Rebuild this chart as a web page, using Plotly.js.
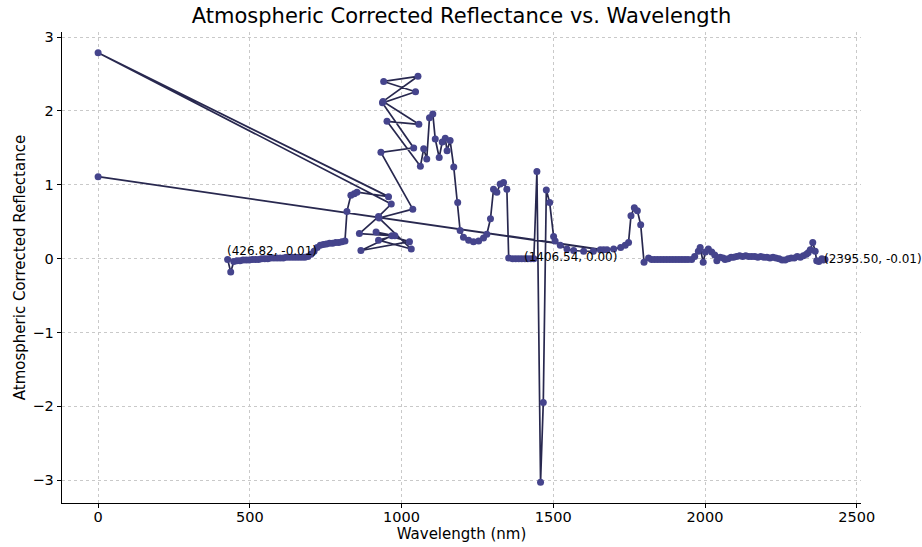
<!DOCTYPE html>
<html>
<head>
<meta charset="utf-8">
<script src="https://cdn.plot.ly/plotly-3.0.1.min.js"></script>
<style>html,body{margin:0;padding:0;background:#fff;}#chart{width:922px;height:547px;}</style>
</head>
<body>
<div id="chart"></div>
<script>
// Band sequence (in file order)
const wavelength = [
  426.82, 436.99, 447.17, 457.34, 467.52, 477.69, 487.87, 498.04, 508.22, 518.39,
  528.57, 538.74, 548.92, 559.09, 569.27, 579.45, 589.62, 599.80, 609.97, 620.15,
  630.32, 640.50, 650.67, 660.85, 671.02, 681.20, 691.37, 701.55, 711.72, 721.90,
  732.07, 742.25, 752.43, 762.60, 772.78, 782.95, 793.13, 803.30, 813.48,
  820, 833, 844, 853, 957, 0, 966,
  924, 861, 968, 866, 1026, 916, 978, 924, 1032, 926,
  1037, 932, 1040, 937, 1046, 941, 1054, 939, 1057, 952,
  1062, 1073, 1083, 1092, 1103, 1111, 1124, 1134, 1144, 1150, 1160, 1172, 1185,
  1193, 1204, 1221, 1237, 1254, 1270, 1281, 1293, 1303, 1314, 1325, 1336, 1347,
  1353, 1366, 1376, 1386, 1396, 1406.54, 1416, 1426, 1436,
  1446, 1458, 1467, 1477, 1488, 1501, 1506, 1523, 1545, 1567, 1600, 1632, 1655,
  0, 1666,
  1677, 1699, 1722, 1737, 1748, 1756, 1767, 1777, 1788, 1799,
  1814, 1824, 1834, 1844, 1854, 1864, 1874, 1884, 1894, 1904, 1914, 1924, 1934, 1944, 1956,
  1966, 1978, 1984, 1994, 2001, 2011, 2022, 2032, 2039, 2050, 2060, 2066, 2076, 2086,
  2094, 2104, 2114, 2124, 2134, 2144, 2154, 2164, 2174, 2184, 2194, 2204, 2214, 2224,
  2234, 2244, 2254, 2264, 2274, 2284, 2294, 2304, 2314, 2324, 2334, 2340, 2347, 2355,
  2363, 2368, 2375, 2385, 2390, 2395.50
];
const reflectance = [
  -0.01, -0.18, -0.04, -0.03, -0.03, -0.02, -0.02, -0.02, -0.01, -0.01,
  -0.01, 0.00, 0.00, 0.00, 0.01, 0.01, 0.01, 0.01, 0.01, 0.02,
  0.02, 0.02, 0.02, 0.02, 0.02, 0.02, 0.03, 0.06, 0.10, 0.15,
  0.18, 0.19, 0.20, 0.21, 0.21, 0.22, 0.22, 0.23, 0.24,
  0.64, 0.86, 0.88, 0.90, 0.84, 2.79, 0.74,
  0.57, 0.34, 0.31, 0.11, 0.23, 0.36, 0.31, 0.25, 0.13, 0.55,
  0.67, 1.44, 1.50, 2.11, 2.26, 2.40, 2.47, 2.13, 1.82, 1.86,
  1.25, 1.49, 1.35, 1.91, 1.96, 1.62, 1.37, 1.58, 1.63, 1.46, 1.60, 1.24, 0.76,
  0.38, 0.29, 0.25, 0.23, 0.24, 0.28, 0.33, 0.54, 0.94, 0.90, 1.01, 1.03, 0.94,
  0.01, 0.00, 0.00, 0.00, 0.00, 0.00, 0.00, 0.00, 0.00,
  1.18, -3.03, -1.95, 0.93, 0.76, 0.30, 0.24, 0.18, 0.13, 0.11, 0.10, 0.10, 0.12,
  1.11, 0.12,
  0.12, 0.13, 0.15, 0.18, 0.22, 0.58, 0.69, 0.65, 0.46, -0.05,
  0.01, -0.01, -0.01, -0.01, -0.01, -0.01, -0.01, -0.01, -0.01, -0.01, -0.01, -0.01, -0.01, -0.01, -0.01,
  0.03, 0.10, 0.15, -0.05, 0.09, 0.13, 0.09, 0.05, -0.03, 0.02, 0.01, -0.01, 0.00, 0.02,
  0.02, 0.03, 0.04, 0.03, 0.04, 0.03, 0.03, 0.03, 0.02, 0.03, 0.02, 0.02, 0.01, 0.02,
  0.01, 0.00, -0.02, -0.02, 0.00, 0.01, 0.01, 0.03, 0.02, 0.04, 0.06, 0.08, 0.12, 0.22,
  0.10, -0.03, -0.04, 0.00, -0.02, -0.01
];
// Labelled points
const labelX = [426.82, 1406.54, 2395.50];
const labelY = [-0.01, 0.00, -0.01];
const labelText = ["(426.82, -0.01)", "(1406.54, 0.00)", "(2395.50, -0.01)"];
const xTicks = [0, 500, 1000, 1500, 2000, 2500];
const yTicks = [-3, -2, -1, 0, 1, 2, 3];

const FONT = "DejaVu Sans, sans-serif";
const trace = {
  x: wavelength, y: reflectance, type: "scatter", mode: "lines+markers",
  line: {color: "#28284f", width: 1.7},
  marker: {color: "#45448c", size: 7},
  cliponaxis: true, hoverinfo: "skip"
};
const annFont = {family: FONT, size: 12, color: "#000"};
const annotations = [
  {x: labelX[0], y: labelY[0], text: labelText[0], showarrow: false,
   xanchor: "left", yanchor: "bottom", xshift: -3, yshift: -1, font: annFont},
  {x: labelX[1], y: labelY[1], text: labelText[1], showarrow: false,
   xanchor: "left", yanchor: "middle", xshift: -3, yshift: 2, font: annFont},
  {x: labelX[2], y: labelY[2], text: labelText[2], showarrow: false,
   xanchor: "left", yanchor: "middle", xshift: -3, yshift: 0, font: annFont}
];
const layout = {
  width: 922, height: 547,
  margin: {l: 62, r: 61, t: 32, b: 44},
  paper_bgcolor: "#fff", plot_bgcolor: "#fff",
  showlegend: false,
  font: {family: FONT, color: "#000"},
  title: {text: "Atmospheric Corrected Reflectance vs. Wavelength",
          font: {family: FONT, size: 21, color: "#000"},
          x: 0.5, xref: "paper", xanchor: "center", y: 0.972, yref: "container", yanchor: "middle"},
  xaxis: {
    range: [-119, 2514], tickvals: xTicks, ticktext: xTicks.map(String),
    showline: true, linecolor: "#000", linewidth: 1.3, mirror: false,
    ticks: "outside", ticklen: 4, tickwidth: 1, tickcolor: "#000",
    ticklabelstandoff: -4,
    showgrid: true, gridcolor: "#c9c9c9", griddash: "dot", gridwidth: 1,
    zeroline: false, tickfont: {family: FONT, size: 14.5, color: "#000"},
    title: {text: "Wavelength (nm)", font: {family: FONT, size: 15, color: "#000"}, standoff: 1}
  },
  yaxis: {
    range: [-3.31, 3.07], tickvals: yTicks,
    showline: true, linecolor: "#000", linewidth: 1.3, mirror: false,
    ticks: "outside", ticklen: 4, tickwidth: 1, tickcolor: "#000",
    showgrid: true, gridcolor: "#c9c9c9", griddash: "dot", gridwidth: 1,
    zeroline: false, tickfont: {family: FONT, size: 14.5, color: "#000"},
    title: {text: "Atmospheric Corrected Reflectance", font: {family: FONT, size: 15, color: "#000"}, standoff: 3}
  },
  annotations: annotations
};
Plotly.newPlot("chart", [trace], layout, {staticPlot: true, displayModeBar: false});
</script>
</body>
</html>
